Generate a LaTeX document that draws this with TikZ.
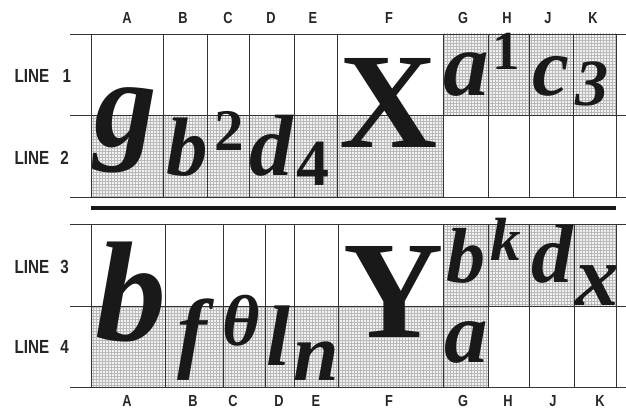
\documentclass[tikz,border=0pt]{standalone}
\usepackage{fontspec}
\setmainfont{Liberation Serif}
\setsansfont{Liberation Sans}
\usetikzlibrary{patterns}
\newcommand{\narrow}[1]{\scalebox{0.8}[1]{#1}}
\tikzset{
  rule/.style={draw=black!80, line width=0.9pt},
  shade/.style={fill=gray!10},
  hatch/.style={pattern=grid, pattern color=gray!55},
  colhead/.style={font=\sffamily\bfseries\fontsize{16}{16}\selectfont, anchor=center, text=black!85, inner sep=1pt},
  linehead/.style={font=\sffamily\bfseries\fontsize{19}{19}\selectfont, anchor=west, text=black!85},
  glyph/.style={anchor=base, inner sep=0pt, text=black!90},
}
\newcommand{\gl}[1]{\fontsize{#1}{#1}\selectfont\bfseries\itshape}
\newcommand{\glr}[1]{\fontsize{#1}{#1}\selectfont\bfseries}
\begin{document}
\begin{tikzpicture}[x=1pt,y=-1pt]
\useasboundingbox (0,0) rectangle (626,412);
% shading top
\fill[shade] (91,115) rectangle (443,197);
\fill[hatch] (91,115) rectangle (443,197);
\fill[shade] (443,34) rectangle (616,115);
\fill[hatch] (443,34) rectangle (616,115);
% shading bottom
\fill[shade] (443,224) rectangle (616,306);
\fill[hatch] (443,224) rectangle (616,306);
\fill[shade] (91,306) rectangle (488,387);
\fill[hatch] (91,306) rectangle (488,387);
% top table rules
\foreach \y in {34,115,197} \draw[rule] (70,\y) -- (626,\y);
\foreach \x in {91,163,207,249,294,337,443,488,529,573,616} \draw[rule] (\x,34) -- (\x,197);
% thick bar
\draw[line width=4.5pt, black!90] (91,208) -- (616,208);
% bottom table rules
\foreach \y in {224,306,387} \draw[rule] (70,\y) -- (626,\y);
\foreach \x in {91,165,223,265,294,338,443,488,529,574,616} \draw[rule] (\x,224) -- (\x,387);
% column heads top
\node[colhead] (tA) at (127,18) {\narrow{A}};
\node[colhead] (tB) at (183,18) {\narrow{B}};
\node[colhead] (tC) at (228,18) {\narrow{C}};
\node[colhead] (tD) at (271,18) {\narrow{D}};
\node[colhead] (tE) at (313,18) {\narrow{E}};
\node[colhead] (tF) at (389,18) {\narrow{F}};
\node[colhead] (tG) at (463,18) {\narrow{G}};
\node[colhead] (tH) at (507,18) {\narrow{H}};
\node[colhead] (tJ) at (548,18) {\narrow{J}};
\node[colhead] (tK) at (593,18) {\narrow{K}};
% column heads bottom
\node[colhead] (bA) at (127,401) {\narrow{A}};
\node[colhead] (bB) at (193,401) {\narrow{B}};
\node[colhead] (bC) at (233,401) {\narrow{C}};
\node[colhead] (bD) at (279,401) {\narrow{D}};
\node[colhead] (bE) at (316,401) {\narrow{E}};
\node[colhead] (bF) at (389,401) {\narrow{F}};
\node[colhead] (bG) at (463,401) {\narrow{G}};
\node[colhead] (bH) at (508,401) {\narrow{H}};
\node[colhead] (bJ) at (553,401) {\narrow{J}};
\node[colhead] (bK) at (600,401) {\narrow{K}};
% line heads
\node[linehead] (l1) at (11,76) {\narrow{LINE\hspace{17pt}1}};
\node[linehead] (l2) at (11,158) {\narrow{LINE\hspace{14pt}2}};
\node[linehead] (l3) at (11,267) {\narrow{LINE\hspace{14pt}3}};
\node[linehead] (l4) at (11,347) {\narrow{LINE\hspace{14pt}4}};
% top glyphs
\node[glyph] (g1) at (126,146) {\gl{125}g};
\node[glyph] (g2) at (187,175) {\gl{83}b};
\node[glyph] (g3) at (229,150) {\glr{59}2};
\node[glyph] (g4) at (271,175) {\gl{87}d};
\node[glyph] (g5) at (313,185) {\glr{66}4};
\node[glyph] (g6) at (389,147) {\glr{136}X};
\node[glyph] (g7) at (466,95) {\gl{91}a};
\node[glyph] (g8) at (506,70) {\glr{55}1};
\node[glyph] (g9) at (551,95) {\gl{83}c};
\node[glyph] (g10) at (592,105) {\gl{66}3};
% bottom glyphs
\node[glyph] (h1) at (131,340) {\gl{142}b};
\node[glyph] (h2) at (192,361) {\gl{89}f};
\node[glyph] (h3) at (241,345) {\gl{72}θ};
\node[glyph] (h4) at (278,365) {\gl{86}l};
\node[glyph] (h5) at (316,380) {\gl{82}n};
\node[glyph] (h6) at (394,337) {\glr{139}Y};
\node[glyph] (h7) at (466,282) {\gl{78}b};
\node[glyph] (h8) at (506,260) {\gl{61}k};
\node[glyph] (h9) at (552,282) {\gl{83}d};
\node[glyph] (h10) at (597,305) {\gl{87}x};
\node[glyph] (h11) at (466,362) {\gl{87}a};
\end{tikzpicture}
\end{document}
